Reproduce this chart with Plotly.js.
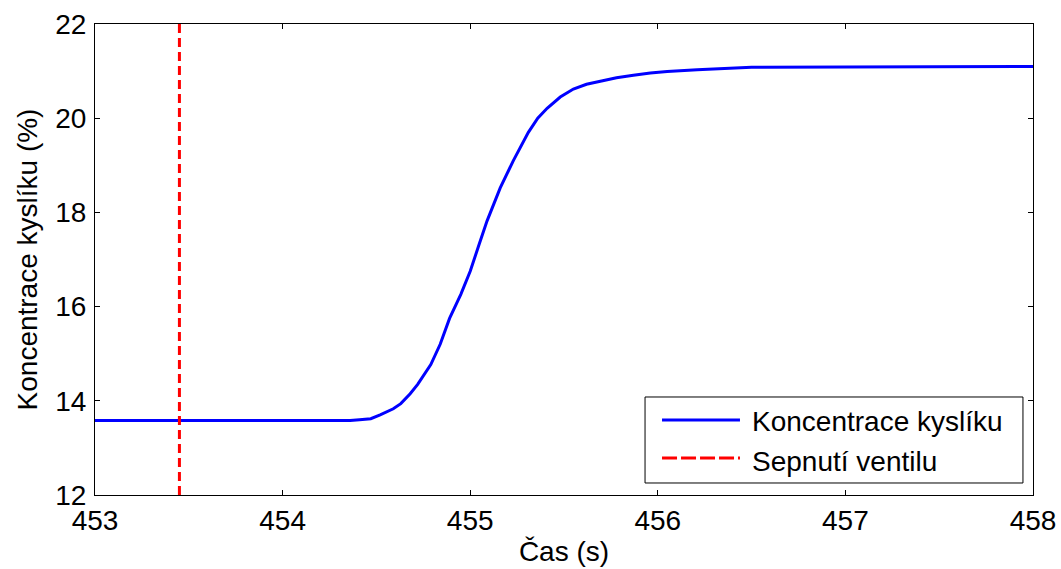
<!DOCTYPE html>
<html><head><meta charset="utf-8">
<script src="https://cdn.plot.ly/plotly-3.0.1.min.js"></script>
<style>body{margin:0;background:#fff}</style>
</head><body>
<div id="chart" style="width:1061px;height:569px"></div>
<script>
const timeS = [453, 454.0, 454.36, 454.41, 454.47, 454.52, 454.59, 454.63, 454.68, 454.72, 454.76, 454.79, 454.84, 454.89, 454.95, 455.0, 455.05, 455.09, 455.16, 455.23, 455.31, 455.36, 455.41, 455.48, 455.55, 455.62, 455.70, 455.78, 455.87, 455.96, 456.05, 456.21, 456.5, 457.0, 458];
const oxygen = [13.58, 13.58, 13.58, 13.6, 13.62, 13.7, 13.83, 13.94, 14.15, 14.35, 14.6, 14.77, 15.2, 15.75, 16.26, 16.75, 17.35, 17.82, 18.52, 19.1, 19.7, 20.0, 20.21, 20.45, 20.62, 20.72, 20.79, 20.86, 20.91, 20.96, 20.99, 21.03, 21.08, 21.09, 21.1];
const valveTime = [453.45, 453.45];
const valveY = [12, 22];
const seriesNames = ["Koncentrace kyslíku", "Sepnutí ventilu"];
const xTicks = [453, 454, 455, 456, 457, 458];
const yTicks = [12, 14, 16, 18, 20, 22];

const font = {family: "Liberation Sans, Arial, sans-serif", size: 28, color: "#000"};
const axisCommon = {
  showgrid: false, zeroline: false, showline: true, linecolor: "#000", linewidth: 1,
  mirror: "ticks", ticks: "inside", ticklen: 5, tickcolor: "#000",
  tickfont: font
};
const blue = "#0000ff", red = "#ff0000";
Plotly.newPlot("chart", [
  {x: timeS, y: oxygen, mode: "lines", name: seriesNames[0], line: {color: blue, width: 3}, showlegend: false},
  {x: valveTime, y: valveY, mode: "lines", name: seriesNames[1], line: {color: red, width: 3, dash: "9px,5px"}, showlegend: false}
], {
  width: 1061, height: 569,
  margin: {l: 95, r: 28, t: 24, b: 74},
  paper_bgcolor: "#fff", plot_bgcolor: "#fff",
  font: font,
  xaxis: Object.assign({}, axisCommon, {range: [453, 458], tickvals: xTicks, ticklabelstandoff: 0,
    title: {text: "Čas (s)", font: font, standoff: 6}}),
  yaxis: Object.assign({}, axisCommon, {range: [12, 22], tickvals: yTicks, ticklabelstandoff: 2,
    title: {text: "Koncentrace kyslíku (%)", font: font, standoff: 9}}),
  showlegend: false,
  shapes: [
    {type: "rect", xref: "paper", yref: "paper", x0: 0.5864, x1: 0.9893, y0: 0.0255, y1: 0.2081,
      line: {color: "#000", width: 1}, fillcolor: "#fff", layer: "above"},
    {type: "line", xref: "paper", yref: "paper", x0: 0.6045, x1: 0.6876, y0: 0.1592, y1: 0.1592,
      line: {color: blue, width: 3}, layer: "above"},
    {type: "line", xref: "paper", yref: "paper", x0: 0.6045, x1: 0.6876, y0: 0.0786, y1: 0.0786,
      line: {color: red, width: 3, dash: "15px,4px"}, layer: "above"}
  ],
  annotations: [
    {xref: "paper", yref: "paper", x: 0.6983, y: 0.155, xanchor: "left", yanchor: "middle",
      text: seriesNames[0], showarrow: false, font: font},
    {xref: "paper", yref: "paper", x: 0.6983, y: 0.072, xanchor: "left", yanchor: "middle",
      text: seriesNames[1], showarrow: false, font: font}
  ]
}, {displayModeBar: false});
</script>
</body></html>
